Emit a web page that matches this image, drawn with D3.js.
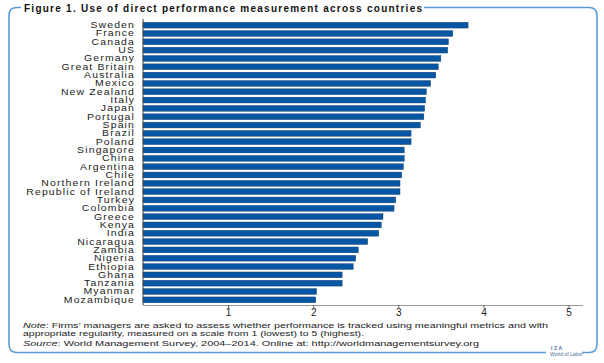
<!DOCTYPE html>
<html>
<head>
<meta charset="utf-8">
<script src="https://cdn.jsdelivr.net/npm/d3@7"></script>
<style>
  html, body { margin: 0; padding: 0; background: #fff; }
  svg { display: block; }
  text { font-family: "Liberation Sans", Arial, sans-serif; }
</style>
</head>
<body>
<svg id="chart" width="604" height="363"></svg>
<script>
const countries = ["Sweden","France","Canada","US","Germany","Great Britain","Australia","Mexico","New Zealand","Italy","Japan","Portugal","Spain","Brazil","Poland","Singapore","China","Argentina","Chile","Northern Ireland","Republic of Ireland","Turkey","Colombia","Greece","Kenya","India","Nicaragua","Zambia","Nigeria","Ethiopia","Ghana","Tanzania","Myanmar","Mozambique"];
const scores = [3.82,3.64,3.59,3.58,3.50,3.47,3.44,3.38,3.33,3.32,3.31,3.30,3.26,3.15,3.15,3.07,3.07,3.06,3.04,3.02,3.02,2.97,2.95,2.82,2.80,2.77,2.64,2.53,2.50,2.47,2.34,2.34,2.04,2.03];
const xTicks = [1,2,3,4,5];
const titleText = "Figure 1. Use of direct performance measurement across countries";
const noteLine1 = "Firms\u2019 managers are asked to assess whether performance is tracked using meaningful metrics and with";
const noteLine2 = "appropriate regularity, measured on a scale from 1 (lowest) to 5 (highest).";
const sourceText = "World Management Survey, 2004\u20132014. Online at: http://worldmanagementsurvey.org";

const svg = d3.select("#chart");
const frameColor = "#5b9bd5";

// Frame (rounded, with gap for title and logo)
const L = 9, T = 7.5, R = 597, B = 352.5, r = 8;
const framePath = d3.path();
framePath.moveTo(424, T);
framePath.lineTo(R - r, T);
framePath.quadraticCurveTo(R, T, R, T + r);
framePath.lineTo(R, B - r);
framePath.quadraticCurveTo(R, B, R - r, B);
framePath.lineTo(582, B);
framePath.moveTo(546, B);
framePath.lineTo(L + r, B);
framePath.quadraticCurveTo(L, B, L, B - r);
framePath.lineTo(L, T + r);
framePath.quadraticCurveTo(L, T, L + r, T);
framePath.lineTo(21, T);
svg.append("path").attr("d", framePath.toString())
  .attr("fill", "none").attr("stroke", frameColor).attr("stroke-width", 1.6);

// Title
svg.append("text").attr("x", 24).attr("y", 11.5)
  .attr("font-size", 10).attr("font-weight", "bold").attr("fill", "#111")
  .attr("textLength", 398).attr("lengthAdjust", "spacing")
  .text(titleText);

const x = d3.scaleLinear().domain([0, 5.17]).range([143, 583]);
const y = d3.scaleBand().domain(countries).range([21, 304]).paddingInner(0.3).paddingOuter(0.15);

// Bars
svg.append("g").selectAll("rect").data(countries).join("rect")
  .attr("x", x(0))
  .attr("y", d => y(d))
  .attr("width", (d, i) => x(scores[i]) - x(0))
  .attr("height", y.bandwidth())
  .attr("fill", "#0656a3")
  .attr("stroke", "#1a3f6e").attr("stroke-width", 0.4);

// Y labels (wide, tightly set like the reference)
const labelX = 135;
svg.append("g").attr("transform", `translate(${labelX},0) scale(1.26,1)`)
  .selectAll("text").data(countries).join("text")
  .attr("x", 0)
  .attr("y", d => y(d) + y.bandwidth() / 2)
  .attr("dy", "0.36em")
  .attr("text-anchor", "end")
  .attr("font-size", 8.3)
  .attr("letter-spacing", 0.9)
  .attr("fill", "#222")
  .text(d => d);

// Y axis line
svg.append("line").attr("x1", 143).attr("x2", 143).attr("y1", 19).attr("y2", 305)
  .attr("stroke", "#444").attr("stroke-width", 1);

// X axis
const xAxis = d3.axisBottom(x).tickValues(xTicks).tickSize(3).tickSizeOuter(0).tickFormat(d3.format("d"));
const gx = svg.append("g").attr("transform", "translate(0,305)").call(xAxis);
gx.select(".domain").attr("stroke", "#999").attr("d", "M143,0.5H583");
gx.selectAll(".tick line").attr("stroke", "#666");
gx.selectAll(".tick text").attr("font-size", 10).attr("fill", "#222")
  .attr("font-family", "Liberation Sans, Arial, sans-serif").attr("dy", "0.45em");

// Note
const note = svg.append("text").attr("x", 23).attr("y", 328).attr("font-size", 8).attr("fill", "#222")
  .attr("textLength", 525).attr("lengthAdjust", "spacingAndGlyphs");
note.append("tspan").attr("font-style", "italic").text("Note");
note.append("tspan").text(": " + noteLine1);
svg.append("text").attr("x", 23).attr("y", 336).attr("font-size", 8).attr("fill", "#222")
  .attr("textLength", 341).attr("lengthAdjust", "spacingAndGlyphs").text(noteLine2);
const src = svg.append("text").attr("x", 23).attr("y", 345.5).attr("font-size", 8).attr("fill", "#222")
  .attr("textLength", 456).attr("lengthAdjust", "spacingAndGlyphs");
src.append("tspan").attr("font-style", "italic").text("Source");
src.append("tspan").text(": " + sourceText);

// Logo
svg.append("text").attr("x", 551).attr("y", 350).attr("font-size", 5).attr("font-weight", "bold")
  .attr("fill", "#4a6fa0").attr("letter-spacing", 1.5).text("IZA");
svg.append("text").attr("x", 550).attr("y", 356).attr("font-size", 5)
  .attr("fill", "#4a6fa0").text("World of Labor");
</script>
</body>
</html>
